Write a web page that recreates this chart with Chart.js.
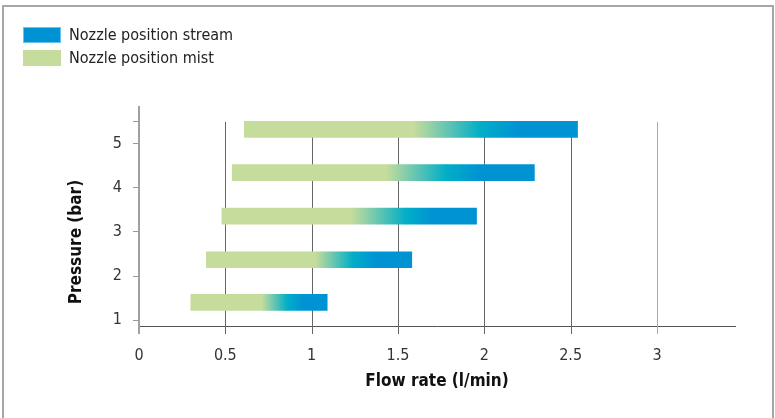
<!DOCTYPE html>
<html lang="en">
<head>
    <meta charset="UTF-8">
    <title>Nozzle flow rate</title>
    <script src="https://cdn.jsdelivr.net/npm/chart.js"></script>
    <style>
        body {
            margin: 0;
            width: 775px;
            height: 418px;
            overflow: hidden;
            background: #fff;
            font-family: 'Liberation Sans Narrow', 'DejaVu Sans Condensed', sans-serif;
        }
        .frame {
            position: absolute;
            left: 2px;
            top: 5px;
            width: 768px;
            height: 420px;
            border: 2px solid #a6a6a6;
        }
        .chart-box {
            position: absolute;
            left: 0;
            top: 0;
            width: 775px;
            height: 418px;
        }
        #legend {
            position: absolute;
            left: 23px;
            top: 23px;
            font-size: 16px;
            color: #222;
        }
        #legend .item {
            display: flex;
            align-items: center;
            height: 23px;
        }
        #legend .box {
            width: 38px;
            height: 16px;
            margin-right: 8px;
            box-sizing: border-box;
        }
    </style>
</head>
<body>
    <div class="frame"></div>
    <div class="chart-box"><canvas id="flowChart"></canvas></div>
    <div id="legend"></div>

    <script>
        // Data
        const pressures = [1, 2, 3, 4, 5];
        const barLevel = [1.4, 2.37, 3.36, 4.35, 5.33];   // where each bar sits on the pressure axis
        const flowStart = [0.30, 0.39, 0.48, 0.54, 0.61];  // mist begins
        const mistSolidEnd = [0.71, 1.02, 1.23, 1.43, 1.59];
        const switchPoint = [0.86, 1.24, 1.55, 1.78, 1.98]; // mist -> stream
        const streamSolidStart = [0.95, 1.38, 1.70, 1.97, 2.19];
        const flowEnd = [1.09, 1.58, 1.955, 2.29, 2.54];    // stream ends
        const xTicks = [0, 0.5, 1, 1.5, 2, 2.5, 3];
        const yTicks = [1, 2, 3, 4, 5, 5.5];

        const GREEN = '#c6dc9c';
        const TEAL = '#00aec7';
        const BLUE = '#0093d3';
        const FONT = "'Liberation Sans Narrow', 'DejaVu Sans Condensed', sans-serif";

        function mistFill(c) {
            if (c.type !== 'data') return GREEN;
            const chart = c.chart;
            if (!chart.chartArea) return GREEN;
            const x = chart.scales.x;
            const i = c.dataIndex;
            const x0 = x.getPixelForValue(mistSolidEnd[i]);
            const x1 = x.getPixelForValue(switchPoint[i]);
            const g = chart.ctx.createLinearGradient(x0, 0, x1, 0);
            g.addColorStop(0, GREEN);
            g.addColorStop(1, TEAL);
            return g;
        }

        function streamFill(c) {
            if (c.type !== 'data') return BLUE;
            const chart = c.chart;
            if (!chart.chartArea) return BLUE;
            const x = chart.scales.x;
            const i = c.dataIndex;
            const x0 = x.getPixelForValue(switchPoint[i]);
            const x1 = x.getPixelForValue(streamSolidStart[i]);
            const g = chart.ctx.createLinearGradient(x0, 0, x1, 0);
            g.addColorStop(0, TEAL);
            g.addColorStop(1, BLUE);
            return g;
        }

        const mistData = pressures.map((p, i) => ({ x: [flowStart[i], switchPoint[i]], y: barLevel[i] }));
        const streamData = pressures.map((p, i) => ({ x: [switchPoint[i], flowEnd[i]], y: barLevel[i] }));

        // vertical grid lines start at the top tick, and all x ticks hang below the axis
        const gridPlugin = {
            id: 'refGrid',
            beforeDatasetsDraw(chart) {
                const { ctx, scales: { x, y }, chartArea } = chart;
                ctx.save();
                xTicks.forEach(v => {
                    const px = Math.round(x.getPixelForValue(v)) + 0.5;
                    ctx.beginPath();
                    if (v === 0) {
                        ctx.strokeStyle = '#a0a0a0';
                        ctx.lineWidth = 2;
                        ctx.moveTo(px - 0.5, chartArea.bottom);
                    } else {
                        ctx.strokeStyle = v === 3 ? '#a8a8a8' : '#666';
                        ctx.lineWidth = 1;
                        ctx.moveTo(px, y.getPixelForValue(5.5));
                    }
                    ctx.lineTo(v === 0 ? px - 0.5 : px, chartArea.bottom + 8);
                    ctx.stroke();
                });
                ctx.restore();
            },
            afterDraw(chart) {
                const { ctx } = chart;
                ctx.save();
                ctx.translate(77, 242);
                ctx.rotate(-Math.PI / 2);
                ctx.font = 'bold 17px ' + FONT;
                ctx.fillStyle = '#111';
                ctx.textAlign = 'center';
                ctx.textBaseline = 'middle';
                ctx.fillText('Pressure (bar)', 0, 0);
                ctx.restore();
            }
        };

        const flowChart = new Chart(document.getElementById('flowChart'), {
            type: 'bar',
            data: {
                datasets: [
                    { label: 'Nozzle position stream', data: streamData, backgroundColor: streamFill, legendColor: BLUE, legendBorder: '#6cc2ec' },
                    { label: 'Nozzle position mist', data: mistData, backgroundColor: mistFill, legendColor: GREEN, legendBorder: GREEN }
                ]
            },
            options: {
                indexAxis: 'y',
                responsive: true,
                maintainAspectRatio: false,
                animation: false,
                grouped: false,
                barThickness: 16,
                borderSkipped: false,
                layout: { padding: { top: 107, right: 40, bottom: 22, left: 0 } },
                plugins: {
                    legend: { display: false },
                    tooltip: { enabled: false }
                },
                scales: {
                    x: {
                        type: 'linear',
                        min: 0,
                        max: 3.452,
                        afterBuildTicks: s => { s.ticks = xTicks.map(v => ({ value: v })); },
                        afterFit: s => { s.height = 70; },
                        grid: { display: false },
                        border: { display: true, color: '#555', width: 1 },
                        ticks: {
                            padding: 12,
                            color: '#333',
                            font: { family: FONT, size: 16 },
                            callback: v => String(v)
                        },
                        title: {
                            display: true,
                            text: 'Flow rate (l/min)',
                            color: '#111',
                            font: { family: FONT, size: 17, weight: 'bold' },
                            padding: { top: 0, bottom: 4 }
                        }
                    },
                    y: {
                        type: 'linear',
                        min: 0.864,
                        max: 5.84,
                        offset: false,
                        afterBuildTicks: s => { s.ticks = yTicks.map(v => ({ value: v })); },
                        afterFit: s => { s.width = 139; },
                        grid: { display: true, offset: false, drawOnChartArea: false, tickLength: 6, color: '#999', lineWidth: 1 },
                        border: { display: true, color: '#a0a0a0', width: 2 },
                        ticks: {
                            padding: 11,
                            color: '#333',
                            font: { family: FONT, size: 16 },
                            callback: v => (v === 5.5 ? '' : String(v))
                        }
                    }
                }
            },
            plugins: [gridPlugin]
        });

        // Legend, one item per line
        const legend = document.getElementById('legend');
        flowChart.data.datasets.forEach(ds => {
            const item = document.createElement('div');
            item.className = 'item';
            const box = document.createElement('span');
            box.className = 'box';
            box.style.background = ds.legendColor;
            box.style.border = '1px solid ' + ds.legendBorder;
            const text = document.createElement('span');
            text.textContent = ds.label;
            item.appendChild(box);
            item.appendChild(text);
            legend.appendChild(item);
        });
    </script>
</body>
</html>
